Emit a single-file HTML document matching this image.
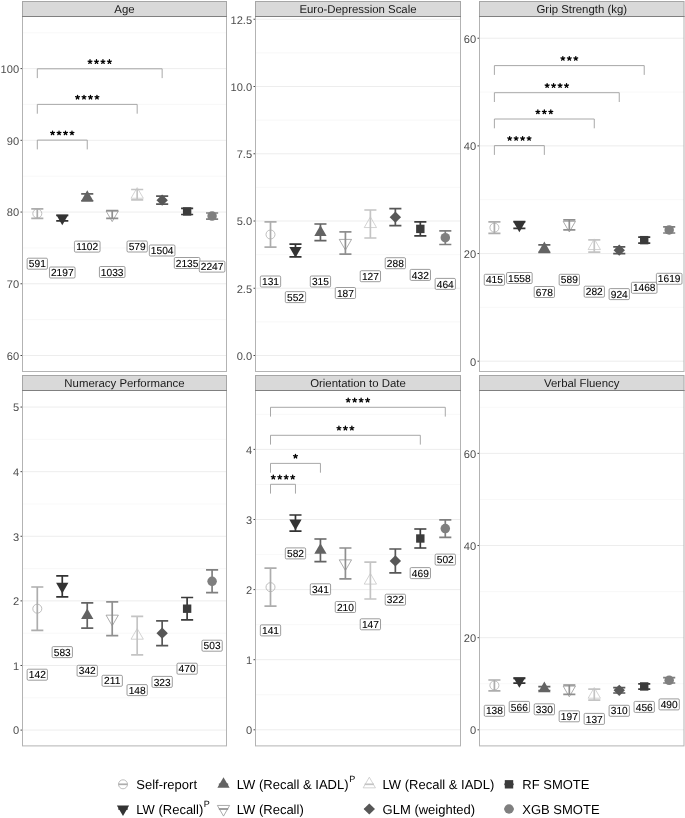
<!DOCTYPE html>
<html><head><meta charset="utf-8"><title>Chart</title>
<style>html,body{margin:0;padding:0;background:#fff;width:685px;height:818px;overflow:hidden}</style>
</head><body>
<svg width="685" height="818" viewBox="0 0 685 818" style="display:block;will-change:transform;text-rendering:geometricPrecision">
<rect width="685" height="818" fill="#fff"/>
<line x1="22.5" y1="319.64" x2="226.5" y2="319.64" stroke="#f4f4f4" stroke-width="0.6"/>
<line x1="22.5" y1="247.91" x2="226.5" y2="247.91" stroke="#f4f4f4" stroke-width="0.6"/>
<line x1="22.5" y1="176.19" x2="226.5" y2="176.19" stroke="#f4f4f4" stroke-width="0.6"/>
<line x1="22.5" y1="104.46" x2="226.5" y2="104.46" stroke="#f4f4f4" stroke-width="0.6"/>
<line x1="22.5" y1="32.74" x2="226.5" y2="32.74" stroke="#f4f4f4" stroke-width="0.6"/>
<line x1="22.5" y1="355.5" x2="226.5" y2="355.5" stroke="#ebebeb" stroke-width="0.9"/>
<line x1="20.5" y1="355.5" x2="22.5" y2="355.5" stroke="#333" stroke-width="0.9"/>
<text x="19.1" y="359.8" text-anchor="end" font-family="'Liberation Sans', sans-serif" font-size="11.1" fill="#4d4d4d">60</text>
<line x1="22.5" y1="283.77" x2="226.5" y2="283.77" stroke="#ebebeb" stroke-width="0.9"/>
<line x1="20.5" y1="283.77" x2="22.5" y2="283.77" stroke="#333" stroke-width="0.9"/>
<text x="19.1" y="288.07" text-anchor="end" font-family="'Liberation Sans', sans-serif" font-size="11.1" fill="#4d4d4d">70</text>
<line x1="22.5" y1="212.05" x2="226.5" y2="212.05" stroke="#ebebeb" stroke-width="0.9"/>
<line x1="20.5" y1="212.05" x2="22.5" y2="212.05" stroke="#333" stroke-width="0.9"/>
<text x="19.1" y="216.35" text-anchor="end" font-family="'Liberation Sans', sans-serif" font-size="11.1" fill="#4d4d4d">80</text>
<line x1="22.5" y1="140.32" x2="226.5" y2="140.32" stroke="#ebebeb" stroke-width="0.9"/>
<line x1="20.5" y1="140.32" x2="22.5" y2="140.32" stroke="#333" stroke-width="0.9"/>
<text x="19.1" y="144.62" text-anchor="end" font-family="'Liberation Sans', sans-serif" font-size="11.1" fill="#4d4d4d">90</text>
<line x1="22.5" y1="68.6" x2="226.5" y2="68.6" stroke="#ebebeb" stroke-width="0.9"/>
<line x1="20.5" y1="68.6" x2="22.5" y2="68.6" stroke="#333" stroke-width="0.9"/>
<text x="19.1" y="72.9" text-anchor="end" font-family="'Liberation Sans', sans-serif" font-size="11.1" fill="#4d4d4d">100</text>
<path d="M37.3,78.1 V68.8 H162.15 V78.1" fill="none" stroke="#9e9e9e" stroke-width="0.9"/>
<path d="M90.02,61.75L90.02,59.73M90.02,61.75L91.94,61.13M90.02,61.75L91.21,63.38M90.02,61.75L88.83,63.38M90.02,61.75L88.1,61.13" stroke="#000" stroke-width="1.3" stroke-linecap="round" fill="none"/>
<path d="M96.49,61.75L96.49,59.73M96.49,61.75L98.41,61.13M96.49,61.75L97.68,63.38M96.49,61.75L95.3,63.38M96.49,61.75L94.57,61.13" stroke="#000" stroke-width="1.3" stroke-linecap="round" fill="none"/>
<path d="M102.96,61.75L102.96,59.73M102.96,61.75L104.88,61.13M102.96,61.75L104.15,63.38M102.96,61.75L101.77,63.38M102.96,61.75L101.04,61.13" stroke="#000" stroke-width="1.3" stroke-linecap="round" fill="none"/>
<path d="M109.43,61.75L109.43,59.73M109.43,61.75L111.35,61.13M109.43,61.75L110.62,63.38M109.43,61.75L108.24,63.38M109.43,61.75L107.51,61.13" stroke="#000" stroke-width="1.3" stroke-linecap="round" fill="none"/>
<path d="M37.3,113.7 V104.4 H137.18 V113.7" fill="none" stroke="#9e9e9e" stroke-width="0.9"/>
<path d="M77.54,97.35L77.54,95.33M77.54,97.35L79.46,96.73M77.54,97.35L78.72,98.98M77.54,97.35L76.35,98.98M77.54,97.35L75.61,96.73" stroke="#000" stroke-width="1.3" stroke-linecap="round" fill="none"/>
<path d="M84.01,97.35L84.01,95.33M84.01,97.35L85.93,96.73M84.01,97.35L85.19,98.98M84.01,97.35L82.82,98.98M84.01,97.35L82.08,96.73" stroke="#000" stroke-width="1.3" stroke-linecap="round" fill="none"/>
<path d="M90.48,97.35L90.48,95.33M90.48,97.35L92.4,96.73M90.48,97.35L91.66,98.98M90.48,97.35L89.29,98.98M90.48,97.35L88.55,96.73" stroke="#000" stroke-width="1.3" stroke-linecap="round" fill="none"/>
<path d="M96.95,97.35L96.95,95.33M96.95,97.35L98.87,96.73M96.95,97.35L98.13,98.98M96.95,97.35L95.76,98.98M96.95,97.35L95.02,96.73" stroke="#000" stroke-width="1.3" stroke-linecap="round" fill="none"/>
<path d="M37.3,149.4 V140.1 H87.24 V149.4" fill="none" stroke="#9e9e9e" stroke-width="0.9"/>
<path d="M52.56,133.05L52.56,131.03M52.56,133.05L54.49,132.43M52.56,133.05L53.75,134.68M52.56,133.05L51.38,134.68M52.56,133.05L50.64,132.43" stroke="#000" stroke-width="1.3" stroke-linecap="round" fill="none"/>
<path d="M59.03,133.05L59.03,131.03M59.03,133.05L60.96,132.43M59.03,133.05L60.22,134.68M59.03,133.05L57.85,134.68M59.03,133.05L57.11,132.43" stroke="#000" stroke-width="1.3" stroke-linecap="round" fill="none"/>
<path d="M65.5,133.05L65.5,131.03M65.5,133.05L67.43,132.43M65.5,133.05L66.69,134.68M65.5,133.05L64.32,134.68M65.5,133.05L63.58,132.43" stroke="#000" stroke-width="1.3" stroke-linecap="round" fill="none"/>
<path d="M71.97,133.05L71.97,131.03M71.97,133.05L73.9,132.43M71.97,133.05L73.16,134.68M71.97,133.05L70.79,134.68M71.97,133.05L70.05,132.43" stroke="#000" stroke-width="1.3" stroke-linecap="round" fill="none"/>
<path d="M31.25,208.8 H43.35 M37.3,208.8 V218.3 M31.25,218.3 H43.35" fill="none" stroke="#adadad" stroke-width="1.7"/>
<circle cx="37.3" cy="213.55" r="4.5" fill="none" stroke="#adadad" stroke-width="0.8"/>
<path d="M56.22,215.5 H68.32 M62.27,215.5 V220.8 M56.22,220.8 H68.32" fill="none" stroke="#333333" stroke-width="1.7"/>
<polygon points="62.27,225.25 68.42,214.6 56.12,214.6" fill="#333333"/>
<path d="M81.19,193.9 H93.29 M87.24,193.9 V200.9 M81.19,200.9 H93.29" fill="none" stroke="#636363" stroke-width="1.7"/>
<polygon points="87.24,190.3 93.39,200.95 81.09,200.95" fill="#636363"/>
<path d="M106.16,210.7 H118.26 M112.21,210.7 V218.3 M106.16,218.3 H118.26" fill="none" stroke="#8f8f8f" stroke-width="1.7"/>
<polygon points="112.21,221.6 118.36,210.95 106.06,210.95" fill="none" stroke="#8f8f8f" stroke-width="0.75" stroke-linejoin="miter"/>
<path d="M131.13,189.5 H143.23 M137.18,189.5 V199.9 M131.13,199.9 H143.23" fill="none" stroke="#c4c4c4" stroke-width="1.7"/>
<polygon points="137.18,187.6 143.33,198.25 131.03,198.25" fill="none" stroke="#c4c4c4" stroke-width="0.75" stroke-linejoin="miter"/>
<path d="M156.1,196.1 H168.2 M162.15,196.1 V204.2 M156.1,204.2 H168.2" fill="none" stroke="#575757" stroke-width="1.7"/>
<polygon points="162.15,194.55 167.85,200.15 162.15,205.75 156.45,200.15" fill="#575757"/>
<path d="M181.07,208.4 H193.17 M187.12,208.4 V214.5 M181.07,214.5 H193.17" fill="none" stroke="#3b3b3b" stroke-width="1.7"/>
<rect x="182.92" y="207.25" width="8.4" height="8.4" fill="#3b3b3b"/>
<path d="M206.04,213 H218.14 M212.09,213 V219.1 M206.04,219.1 H218.14" fill="none" stroke="#7f7f7f" stroke-width="1.7"/>
<circle cx="212.09" cy="216.05" r="4.75" fill="#7f7f7f"/>
<rect x="27.15" y="258.2" width="20.3" height="11" rx="1.2" fill="#fff" stroke="#737373" stroke-width="0.7"/>
<text x="37.3" y="267.3" text-anchor="middle" font-family="'Liberation Sans', sans-serif" font-size="10.2" fill="#000" stroke="#000" stroke-width="0.1">591</text>
<rect x="49.47" y="267" width="25.6" height="11" rx="1.2" fill="#fff" stroke="#737373" stroke-width="0.7"/>
<text x="62.27" y="276.1" text-anchor="middle" font-family="'Liberation Sans', sans-serif" font-size="10.2" fill="#000" stroke="#000" stroke-width="0.1">2197</text>
<rect x="74.44" y="241.1" width="25.6" height="11" rx="1.2" fill="#fff" stroke="#737373" stroke-width="0.7"/>
<text x="87.24" y="250.2" text-anchor="middle" font-family="'Liberation Sans', sans-serif" font-size="10.2" fill="#000" stroke="#000" stroke-width="0.1">1102</text>
<rect x="99.41" y="266.5" width="25.6" height="11" rx="1.2" fill="#fff" stroke="#737373" stroke-width="0.7"/>
<text x="112.21" y="275.6" text-anchor="middle" font-family="'Liberation Sans', sans-serif" font-size="10.2" fill="#000" stroke="#000" stroke-width="0.1">1033</text>
<rect x="127.03" y="241" width="20.3" height="11" rx="1.2" fill="#fff" stroke="#737373" stroke-width="0.7"/>
<text x="137.18" y="250.1" text-anchor="middle" font-family="'Liberation Sans', sans-serif" font-size="10.2" fill="#000" stroke="#000" stroke-width="0.1">579</text>
<rect x="149.35" y="245" width="25.6" height="11" rx="1.2" fill="#fff" stroke="#737373" stroke-width="0.7"/>
<text x="162.15" y="254.1" text-anchor="middle" font-family="'Liberation Sans', sans-serif" font-size="10.2" fill="#000" stroke="#000" stroke-width="0.1">1504</text>
<rect x="174.32" y="257.5" width="25.6" height="11" rx="1.2" fill="#fff" stroke="#737373" stroke-width="0.7"/>
<text x="187.12" y="266.6" text-anchor="middle" font-family="'Liberation Sans', sans-serif" font-size="10.2" fill="#000" stroke="#000" stroke-width="0.1">2135</text>
<rect x="199.29" y="261.1" width="25.6" height="11" rx="1.2" fill="#fff" stroke="#737373" stroke-width="0.7"/>
<text x="212.09" y="270.2" text-anchor="middle" font-family="'Liberation Sans', sans-serif" font-size="10.2" fill="#000" stroke="#000" stroke-width="0.1">2247</text>
<rect x="22.5" y="16.5" width="204" height="355" fill="none" stroke="#b3b3b3" stroke-width="1"/>
<rect x="22.5" y="1.5" width="204" height="15" fill="#d9d9d9" stroke="#a6a6a6" stroke-width="1"/>
<line x1="22" y1="16.5" x2="227" y2="16.5" stroke="#808080" stroke-width="1.1"/>
<text x="124.5" y="12.6" text-anchor="middle" font-family="'Liberation Sans', sans-serif" font-size="11.4" fill="#1a1a1a">Age</text>
<line x1="255.5" y1="321.88" x2="460.5" y2="321.88" stroke="#f4f4f4" stroke-width="0.6"/>
<line x1="255.5" y1="254.62" x2="460.5" y2="254.62" stroke="#f4f4f4" stroke-width="0.6"/>
<line x1="255.5" y1="187.38" x2="460.5" y2="187.38" stroke="#f4f4f4" stroke-width="0.6"/>
<line x1="255.5" y1="120.12" x2="460.5" y2="120.12" stroke="#f4f4f4" stroke-width="0.6"/>
<line x1="255.5" y1="52.88" x2="460.5" y2="52.88" stroke="#f4f4f4" stroke-width="0.6"/>
<line x1="255.5" y1="355.5" x2="460.5" y2="355.5" stroke="#ebebeb" stroke-width="0.9"/>
<line x1="253.5" y1="355.5" x2="255.5" y2="355.5" stroke="#333" stroke-width="0.9"/>
<text x="252.1" y="359.8" text-anchor="end" font-family="'Liberation Sans', sans-serif" font-size="11.1" fill="#4d4d4d">0.0</text>
<line x1="255.5" y1="288.25" x2="460.5" y2="288.25" stroke="#ebebeb" stroke-width="0.9"/>
<line x1="253.5" y1="288.25" x2="255.5" y2="288.25" stroke="#333" stroke-width="0.9"/>
<text x="252.1" y="292.55" text-anchor="end" font-family="'Liberation Sans', sans-serif" font-size="11.1" fill="#4d4d4d">2.5</text>
<line x1="255.5" y1="221" x2="460.5" y2="221" stroke="#ebebeb" stroke-width="0.9"/>
<line x1="253.5" y1="221" x2="255.5" y2="221" stroke="#333" stroke-width="0.9"/>
<text x="252.1" y="225.3" text-anchor="end" font-family="'Liberation Sans', sans-serif" font-size="11.1" fill="#4d4d4d">5.0</text>
<line x1="255.5" y1="153.75" x2="460.5" y2="153.75" stroke="#ebebeb" stroke-width="0.9"/>
<line x1="253.5" y1="153.75" x2="255.5" y2="153.75" stroke="#333" stroke-width="0.9"/>
<text x="252.1" y="158.05" text-anchor="end" font-family="'Liberation Sans', sans-serif" font-size="11.1" fill="#4d4d4d">7.5</text>
<line x1="255.5" y1="86.5" x2="460.5" y2="86.5" stroke="#ebebeb" stroke-width="0.9"/>
<line x1="253.5" y1="86.5" x2="255.5" y2="86.5" stroke="#333" stroke-width="0.9"/>
<text x="252.1" y="90.8" text-anchor="end" font-family="'Liberation Sans', sans-serif" font-size="11.1" fill="#4d4d4d">10.0</text>
<line x1="255.5" y1="19.25" x2="460.5" y2="19.25" stroke="#ebebeb" stroke-width="0.9"/>
<line x1="253.5" y1="19.25" x2="255.5" y2="19.25" stroke="#333" stroke-width="0.9"/>
<text x="252.1" y="23.55" text-anchor="end" font-family="'Liberation Sans', sans-serif" font-size="11.1" fill="#4d4d4d">12.5</text>
<path d="M264.45,221.8 H276.55 M270.5,221.8 V247.2 M264.45,247.2 H276.55" fill="none" stroke="#adadad" stroke-width="1.7"/>
<circle cx="270.5" cy="234.5" r="4.5" fill="none" stroke="#adadad" stroke-width="0.8"/>
<path d="M289.42,244.2 H301.52 M295.47,244.2 V256.8 M289.42,256.8 H301.52" fill="none" stroke="#333333" stroke-width="1.7"/>
<polygon points="295.47,257.6 301.62,246.95 289.32,246.95" fill="#333333"/>
<path d="M314.39,224 H326.49 M320.44,224 V240.7 M314.39,240.7 H326.49" fill="none" stroke="#636363" stroke-width="1.7"/>
<polygon points="320.44,225.25 326.59,235.9 314.29,235.9" fill="#636363"/>
<path d="M339.36,231.8 H351.46 M345.41,231.8 V254.1 M339.36,254.1 H351.46" fill="none" stroke="#8f8f8f" stroke-width="1.7"/>
<polygon points="345.41,250.05 351.56,239.4 339.26,239.4" fill="none" stroke="#8f8f8f" stroke-width="0.75" stroke-linejoin="miter"/>
<path d="M364.33,210 H376.43 M370.38,210 V238 M364.33,238 H376.43" fill="none" stroke="#c4c4c4" stroke-width="1.7"/>
<polygon points="370.38,216.9 376.53,227.55 364.23,227.55" fill="none" stroke="#c4c4c4" stroke-width="0.75" stroke-linejoin="miter"/>
<path d="M389.3,208.6 H401.4 M395.35,208.6 V225.7 M389.3,225.7 H401.4" fill="none" stroke="#575757" stroke-width="1.7"/>
<polygon points="395.35,211.55 401.05,217.15 395.35,222.75 389.65,217.15" fill="#575757"/>
<path d="M414.27,221.9 H426.37 M420.32,221.9 V235.9 M414.27,235.9 H426.37" fill="none" stroke="#3b3b3b" stroke-width="1.7"/>
<rect x="416.12" y="224.7" width="8.4" height="8.4" fill="#3b3b3b"/>
<path d="M439.24,230.8 H451.34 M445.29,230.8 V244.5 M439.24,244.5 H451.34" fill="none" stroke="#7f7f7f" stroke-width="1.7"/>
<circle cx="445.29" cy="237.65" r="4.75" fill="#7f7f7f"/>
<rect x="260.35" y="276" width="20.3" height="11" rx="1.2" fill="#fff" stroke="#737373" stroke-width="0.7"/>
<text x="270.5" y="285.1" text-anchor="middle" font-family="'Liberation Sans', sans-serif" font-size="10.2" fill="#000" stroke="#000" stroke-width="0.1">131</text>
<rect x="285.32" y="291.6" width="20.3" height="11" rx="1.2" fill="#fff" stroke="#737373" stroke-width="0.7"/>
<text x="295.47" y="300.7" text-anchor="middle" font-family="'Liberation Sans', sans-serif" font-size="10.2" fill="#000" stroke="#000" stroke-width="0.1">552</text>
<rect x="310.29" y="276" width="20.3" height="11" rx="1.2" fill="#fff" stroke="#737373" stroke-width="0.7"/>
<text x="320.44" y="285.1" text-anchor="middle" font-family="'Liberation Sans', sans-serif" font-size="10.2" fill="#000" stroke="#000" stroke-width="0.1">315</text>
<rect x="335.26" y="287.5" width="20.3" height="11" rx="1.2" fill="#fff" stroke="#737373" stroke-width="0.7"/>
<text x="345.41" y="296.6" text-anchor="middle" font-family="'Liberation Sans', sans-serif" font-size="10.2" fill="#000" stroke="#000" stroke-width="0.1">187</text>
<rect x="360.23" y="270.7" width="20.3" height="11" rx="1.2" fill="#fff" stroke="#737373" stroke-width="0.7"/>
<text x="370.38" y="279.8" text-anchor="middle" font-family="'Liberation Sans', sans-serif" font-size="10.2" fill="#000" stroke="#000" stroke-width="0.1">127</text>
<rect x="385.2" y="257.7" width="20.3" height="11" rx="1.2" fill="#fff" stroke="#737373" stroke-width="0.7"/>
<text x="395.35" y="266.8" text-anchor="middle" font-family="'Liberation Sans', sans-serif" font-size="10.2" fill="#000" stroke="#000" stroke-width="0.1">288</text>
<rect x="410.17" y="269.4" width="20.3" height="11" rx="1.2" fill="#fff" stroke="#737373" stroke-width="0.7"/>
<text x="420.32" y="278.5" text-anchor="middle" font-family="'Liberation Sans', sans-serif" font-size="10.2" fill="#000" stroke="#000" stroke-width="0.1">432</text>
<rect x="435.14" y="278.4" width="20.3" height="11" rx="1.2" fill="#fff" stroke="#737373" stroke-width="0.7"/>
<text x="445.29" y="287.5" text-anchor="middle" font-family="'Liberation Sans', sans-serif" font-size="10.2" fill="#000" stroke="#000" stroke-width="0.1">464</text>
<rect x="255.5" y="16.5" width="205" height="355" fill="none" stroke="#b3b3b3" stroke-width="1"/>
<rect x="255.5" y="1.5" width="205" height="15" fill="#d9d9d9" stroke="#a6a6a6" stroke-width="1"/>
<line x1="255" y1="16.5" x2="461" y2="16.5" stroke="#808080" stroke-width="1.1"/>
<text x="358" y="12.6" text-anchor="middle" font-family="'Liberation Sans', sans-serif" font-size="11.4" fill="#1a1a1a">Euro-Depression Scale</text>
<line x1="479.5" y1="307.37" x2="684" y2="307.37" stroke="#f4f4f4" stroke-width="0.6"/>
<line x1="479.5" y1="199.71" x2="684" y2="199.71" stroke="#f4f4f4" stroke-width="0.6"/>
<line x1="479.5" y1="92.05" x2="684" y2="92.05" stroke="#f4f4f4" stroke-width="0.6"/>
<line x1="479.5" y1="361.2" x2="684" y2="361.2" stroke="#ebebeb" stroke-width="0.9"/>
<line x1="477.5" y1="361.2" x2="479.5" y2="361.2" stroke="#333" stroke-width="0.9"/>
<text x="476.1" y="365.5" text-anchor="end" font-family="'Liberation Sans', sans-serif" font-size="11.1" fill="#4d4d4d">0</text>
<line x1="479.5" y1="253.54" x2="684" y2="253.54" stroke="#ebebeb" stroke-width="0.9"/>
<line x1="477.5" y1="253.54" x2="479.5" y2="253.54" stroke="#333" stroke-width="0.9"/>
<text x="476.1" y="257.84" text-anchor="end" font-family="'Liberation Sans', sans-serif" font-size="11.1" fill="#4d4d4d">20</text>
<line x1="479.5" y1="145.88" x2="684" y2="145.88" stroke="#ebebeb" stroke-width="0.9"/>
<line x1="477.5" y1="145.88" x2="479.5" y2="145.88" stroke="#333" stroke-width="0.9"/>
<text x="476.1" y="150.18" text-anchor="end" font-family="'Liberation Sans', sans-serif" font-size="11.1" fill="#4d4d4d">40</text>
<line x1="479.5" y1="38.22" x2="684" y2="38.22" stroke="#ebebeb" stroke-width="0.9"/>
<line x1="477.5" y1="38.22" x2="479.5" y2="38.22" stroke="#333" stroke-width="0.9"/>
<text x="476.1" y="42.52" text-anchor="end" font-family="'Liberation Sans', sans-serif" font-size="11.1" fill="#4d4d4d">60</text>
<path d="M494.4,74.9 V65.6 H644.22 V74.9" fill="none" stroke="#9e9e9e" stroke-width="0.9"/>
<path d="M562.84,58.55L562.84,56.53M562.84,58.55L564.76,57.93M562.84,58.55L564.03,60.18M562.84,58.55L561.65,60.18M562.84,58.55L560.92,57.93" stroke="#000" stroke-width="1.3" stroke-linecap="round" fill="none"/>
<path d="M569.31,58.55L569.31,56.53M569.31,58.55L571.23,57.93M569.31,58.55L570.5,60.18M569.31,58.55L568.12,60.18M569.31,58.55L567.39,57.93" stroke="#000" stroke-width="1.3" stroke-linecap="round" fill="none"/>
<path d="M575.78,58.55L575.78,56.53M575.78,58.55L577.7,57.93M575.78,58.55L576.97,60.18M575.78,58.55L574.59,60.18M575.78,58.55L573.86,57.93" stroke="#000" stroke-width="1.3" stroke-linecap="round" fill="none"/>
<path d="M494.4,102 V92.7 H619.25 V102" fill="none" stroke="#9e9e9e" stroke-width="0.9"/>
<path d="M547.12,85.65L547.12,83.63M547.12,85.65L549.04,85.03M547.12,85.65L548.31,87.28M547.12,85.65L545.93,87.28M547.12,85.65L545.2,85.03" stroke="#000" stroke-width="1.3" stroke-linecap="round" fill="none"/>
<path d="M553.59,85.65L553.59,83.63M553.59,85.65L555.51,85.03M553.59,85.65L554.78,87.28M553.59,85.65L552.4,87.28M553.59,85.65L551.67,85.03" stroke="#000" stroke-width="1.3" stroke-linecap="round" fill="none"/>
<path d="M560.06,85.65L560.06,83.63M560.06,85.65L561.98,85.03M560.06,85.65L561.25,87.28M560.06,85.65L558.87,87.28M560.06,85.65L558.14,85.03" stroke="#000" stroke-width="1.3" stroke-linecap="round" fill="none"/>
<path d="M566.53,85.65L566.53,83.63M566.53,85.65L568.45,85.03M566.53,85.65L567.72,87.28M566.53,85.65L565.34,87.28M566.53,85.65L564.61,85.03" stroke="#000" stroke-width="1.3" stroke-linecap="round" fill="none"/>
<path d="M494.4,128.3 V119 H594.28 V128.3" fill="none" stroke="#9e9e9e" stroke-width="0.9"/>
<path d="M537.87,111.95L537.87,109.93M537.87,111.95L539.79,111.33M537.87,111.95L539.06,113.58M537.87,111.95L536.68,113.58M537.87,111.95L535.95,111.33" stroke="#000" stroke-width="1.3" stroke-linecap="round" fill="none"/>
<path d="M544.34,111.95L544.34,109.93M544.34,111.95L546.26,111.33M544.34,111.95L545.53,113.58M544.34,111.95L543.15,113.58M544.34,111.95L542.42,111.33" stroke="#000" stroke-width="1.3" stroke-linecap="round" fill="none"/>
<path d="M550.81,111.95L550.81,109.93M550.81,111.95L552.73,111.33M550.81,111.95L552,113.58M550.81,111.95L549.62,113.58M550.81,111.95L548.89,111.33" stroke="#000" stroke-width="1.3" stroke-linecap="round" fill="none"/>
<path d="M494.4,154.9 V145.6 H544.34 V154.9" fill="none" stroke="#9e9e9e" stroke-width="0.9"/>
<path d="M509.66,138.55L509.66,136.53M509.66,138.55L511.59,137.93M509.66,138.55L510.85,140.18M509.66,138.55L508.48,140.18M509.66,138.55L507.74,137.93" stroke="#000" stroke-width="1.3" stroke-linecap="round" fill="none"/>
<path d="M516.13,138.55L516.13,136.53M516.13,138.55L518.06,137.93M516.13,138.55L517.32,140.18M516.13,138.55L514.95,140.18M516.13,138.55L514.21,137.93" stroke="#000" stroke-width="1.3" stroke-linecap="round" fill="none"/>
<path d="M522.6,138.55L522.6,136.53M522.6,138.55L524.53,137.93M522.6,138.55L523.79,140.18M522.6,138.55L521.42,140.18M522.6,138.55L520.68,137.93" stroke="#000" stroke-width="1.3" stroke-linecap="round" fill="none"/>
<path d="M529.07,138.55L529.07,136.53M529.07,138.55L531,137.93M529.07,138.55L530.26,140.18M529.07,138.55L527.89,140.18M529.07,138.55L527.15,137.93" stroke="#000" stroke-width="1.3" stroke-linecap="round" fill="none"/>
<path d="M488.35,221.9 H500.45 M494.4,221.9 V233.4 M488.35,233.4 H500.45" fill="none" stroke="#adadad" stroke-width="1.7"/>
<circle cx="494.4" cy="227.65" r="4.5" fill="none" stroke="#adadad" stroke-width="0.8"/>
<path d="M513.32,221.7 H525.42 M519.37,221.7 V228.4 M513.32,228.4 H525.42" fill="none" stroke="#333333" stroke-width="1.7"/>
<polygon points="519.37,232.15 525.52,221.5 513.22,221.5" fill="#333333"/>
<path d="M538.29,244.8 H550.39 M544.34,244.8 V252.5 M538.29,252.5 H550.39" fill="none" stroke="#636363" stroke-width="1.7"/>
<polygon points="544.34,241.55 550.49,252.2 538.19,252.2" fill="#636363"/>
<path d="M563.26,219.9 H575.36 M569.31,219.9 V229.9 M563.26,229.9 H575.36" fill="none" stroke="#8f8f8f" stroke-width="1.7"/>
<polygon points="569.31,232 575.46,221.35 563.16,221.35" fill="none" stroke="#8f8f8f" stroke-width="0.75" stroke-linejoin="miter"/>
<path d="M588.23,239.9 H600.33 M594.28,239.9 V252.1 M588.23,252.1 H600.33" fill="none" stroke="#c4c4c4" stroke-width="1.7"/>
<polygon points="594.28,238.9 600.43,249.55 588.13,249.55" fill="none" stroke="#c4c4c4" stroke-width="0.75" stroke-linejoin="miter"/>
<path d="M613.2,246.8 H625.3 M619.25,246.8 V253.6 M613.2,253.6 H625.3" fill="none" stroke="#575757" stroke-width="1.7"/>
<polygon points="619.25,244.6 624.95,250.2 619.25,255.8 613.55,250.2" fill="#575757"/>
<path d="M638.17,237.1 H650.27 M644.22,237.1 V243.2 M638.17,243.2 H650.27" fill="none" stroke="#3b3b3b" stroke-width="1.7"/>
<rect x="640.02" y="235.95" width="8.4" height="8.4" fill="#3b3b3b"/>
<path d="M663.14,226.8 H675.24 M669.19,226.8 V233 M663.14,233 H675.24" fill="none" stroke="#7f7f7f" stroke-width="1.7"/>
<circle cx="669.19" cy="229.9" r="4.75" fill="#7f7f7f"/>
<rect x="484.25" y="274.3" width="20.3" height="11" rx="1.2" fill="#fff" stroke="#737373" stroke-width="0.7"/>
<text x="494.4" y="283.4" text-anchor="middle" font-family="'Liberation Sans', sans-serif" font-size="10.2" fill="#000" stroke="#000" stroke-width="0.1">415</text>
<rect x="506.57" y="272.5" width="25.6" height="11" rx="1.2" fill="#fff" stroke="#737373" stroke-width="0.7"/>
<text x="519.37" y="281.6" text-anchor="middle" font-family="'Liberation Sans', sans-serif" font-size="10.2" fill="#000" stroke="#000" stroke-width="0.1">1558</text>
<rect x="534.19" y="286.5" width="20.3" height="11" rx="1.2" fill="#fff" stroke="#737373" stroke-width="0.7"/>
<text x="544.34" y="295.6" text-anchor="middle" font-family="'Liberation Sans', sans-serif" font-size="10.2" fill="#000" stroke="#000" stroke-width="0.1">678</text>
<rect x="559.16" y="274.3" width="20.3" height="11" rx="1.2" fill="#fff" stroke="#737373" stroke-width="0.7"/>
<text x="569.31" y="283.4" text-anchor="middle" font-family="'Liberation Sans', sans-serif" font-size="10.2" fill="#000" stroke="#000" stroke-width="0.1">589</text>
<rect x="584.13" y="286.2" width="20.3" height="11" rx="1.2" fill="#fff" stroke="#737373" stroke-width="0.7"/>
<text x="594.28" y="295.3" text-anchor="middle" font-family="'Liberation Sans', sans-serif" font-size="10.2" fill="#000" stroke="#000" stroke-width="0.1">282</text>
<rect x="609.1" y="288.6" width="20.3" height="11" rx="1.2" fill="#fff" stroke="#737373" stroke-width="0.7"/>
<text x="619.25" y="297.7" text-anchor="middle" font-family="'Liberation Sans', sans-serif" font-size="10.2" fill="#000" stroke="#000" stroke-width="0.1">924</text>
<rect x="631.42" y="282.3" width="25.6" height="11" rx="1.2" fill="#fff" stroke="#737373" stroke-width="0.7"/>
<text x="644.22" y="291.4" text-anchor="middle" font-family="'Liberation Sans', sans-serif" font-size="10.2" fill="#000" stroke="#000" stroke-width="0.1">1468</text>
<rect x="656.39" y="273.3" width="25.6" height="11" rx="1.2" fill="#fff" stroke="#737373" stroke-width="0.7"/>
<text x="669.19" y="282.4" text-anchor="middle" font-family="'Liberation Sans', sans-serif" font-size="10.2" fill="#000" stroke="#000" stroke-width="0.1">1619</text>
<rect x="479.5" y="16.5" width="204.5" height="355" fill="none" stroke="#b3b3b3" stroke-width="1"/>
<rect x="479.5" y="1.5" width="204.5" height="15" fill="#d9d9d9" stroke="#a6a6a6" stroke-width="1"/>
<line x1="479" y1="16.5" x2="684.5" y2="16.5" stroke="#808080" stroke-width="1.1"/>
<text x="581.75" y="12.6" text-anchor="middle" font-family="'Liberation Sans', sans-serif" font-size="11.4" fill="#1a1a1a">Grip Strength (kg)</text>
<line x1="22.5" y1="697.8" x2="226.5" y2="697.8" stroke="#f4f4f4" stroke-width="0.6"/>
<line x1="22.5" y1="633.19" x2="226.5" y2="633.19" stroke="#f4f4f4" stroke-width="0.6"/>
<line x1="22.5" y1="568.58" x2="226.5" y2="568.58" stroke="#f4f4f4" stroke-width="0.6"/>
<line x1="22.5" y1="503.97" x2="226.5" y2="503.97" stroke="#f4f4f4" stroke-width="0.6"/>
<line x1="22.5" y1="439.36" x2="226.5" y2="439.36" stroke="#f4f4f4" stroke-width="0.6"/>
<line x1="22.5" y1="730.1" x2="226.5" y2="730.1" stroke="#ebebeb" stroke-width="0.9"/>
<line x1="20.5" y1="730.1" x2="22.5" y2="730.1" stroke="#333" stroke-width="0.9"/>
<text x="19.1" y="734.4" text-anchor="end" font-family="'Liberation Sans', sans-serif" font-size="11.1" fill="#4d4d4d">0</text>
<line x1="22.5" y1="665.49" x2="226.5" y2="665.49" stroke="#ebebeb" stroke-width="0.9"/>
<line x1="20.5" y1="665.49" x2="22.5" y2="665.49" stroke="#333" stroke-width="0.9"/>
<text x="19.1" y="669.79" text-anchor="end" font-family="'Liberation Sans', sans-serif" font-size="11.1" fill="#4d4d4d">1</text>
<line x1="22.5" y1="600.88" x2="226.5" y2="600.88" stroke="#ebebeb" stroke-width="0.9"/>
<line x1="20.5" y1="600.88" x2="22.5" y2="600.88" stroke="#333" stroke-width="0.9"/>
<text x="19.1" y="605.18" text-anchor="end" font-family="'Liberation Sans', sans-serif" font-size="11.1" fill="#4d4d4d">2</text>
<line x1="22.5" y1="536.27" x2="226.5" y2="536.27" stroke="#ebebeb" stroke-width="0.9"/>
<line x1="20.5" y1="536.27" x2="22.5" y2="536.27" stroke="#333" stroke-width="0.9"/>
<text x="19.1" y="540.57" text-anchor="end" font-family="'Liberation Sans', sans-serif" font-size="11.1" fill="#4d4d4d">3</text>
<line x1="22.5" y1="471.66" x2="226.5" y2="471.66" stroke="#ebebeb" stroke-width="0.9"/>
<line x1="20.5" y1="471.66" x2="22.5" y2="471.66" stroke="#333" stroke-width="0.9"/>
<text x="19.1" y="475.96" text-anchor="end" font-family="'Liberation Sans', sans-serif" font-size="11.1" fill="#4d4d4d">4</text>
<line x1="22.5" y1="407.05" x2="226.5" y2="407.05" stroke="#ebebeb" stroke-width="0.9"/>
<line x1="20.5" y1="407.05" x2="22.5" y2="407.05" stroke="#333" stroke-width="0.9"/>
<text x="19.1" y="411.35" text-anchor="end" font-family="'Liberation Sans', sans-serif" font-size="11.1" fill="#4d4d4d">5</text>
<path d="M31.25,587 H43.35 M37.3,587 V630.4 M31.25,630.4 H43.35" fill="none" stroke="#adadad" stroke-width="1.7"/>
<circle cx="37.3" cy="608.7" r="4.5" fill="none" stroke="#adadad" stroke-width="0.8"/>
<path d="M56.22,575.9 H68.32 M62.27,575.9 V596.9 M56.22,596.9 H68.32" fill="none" stroke="#333333" stroke-width="1.7"/>
<polygon points="62.27,593.5 68.42,582.85 56.12,582.85" fill="#333333"/>
<path d="M81.19,602.8 H93.29 M87.24,602.8 V628.2 M81.19,628.2 H93.29" fill="none" stroke="#636363" stroke-width="1.7"/>
<polygon points="87.24,608.4 93.39,619.05 81.09,619.05" fill="#636363"/>
<path d="M106.16,601.8 H118.26 M112.21,601.8 V635.6 M106.16,635.6 H118.26" fill="none" stroke="#8f8f8f" stroke-width="1.7"/>
<polygon points="112.21,625.8 118.36,615.15 106.06,615.15" fill="none" stroke="#8f8f8f" stroke-width="0.75" stroke-linejoin="miter"/>
<path d="M131.13,616.4 H143.23 M137.18,616.4 V654.9 M131.13,654.9 H143.23" fill="none" stroke="#c4c4c4" stroke-width="1.7"/>
<polygon points="137.18,628.55 143.33,639.2 131.03,639.2" fill="none" stroke="#c4c4c4" stroke-width="0.75" stroke-linejoin="miter"/>
<path d="M156.1,620.8 H168.2 M162.15,620.8 V645.6 M156.1,645.6 H168.2" fill="none" stroke="#575757" stroke-width="1.7"/>
<polygon points="162.15,627.6 167.85,633.2 162.15,638.8 156.45,633.2" fill="#575757"/>
<path d="M181.07,597.5 H193.17 M187.12,597.5 V619.9 M181.07,619.9 H193.17" fill="none" stroke="#3b3b3b" stroke-width="1.7"/>
<rect x="182.92" y="604.5" width="8.4" height="8.4" fill="#3b3b3b"/>
<path d="M206.04,569.9 H218.14 M212.09,569.9 V592.7 M206.04,592.7 H218.14" fill="none" stroke="#7f7f7f" stroke-width="1.7"/>
<circle cx="212.09" cy="581.3" r="4.75" fill="#7f7f7f"/>
<rect x="27.15" y="669.2" width="20.3" height="11" rx="1.2" fill="#fff" stroke="#737373" stroke-width="0.7"/>
<text x="37.3" y="678.3" text-anchor="middle" font-family="'Liberation Sans', sans-serif" font-size="10.2" fill="#000" stroke="#000" stroke-width="0.1">142</text>
<rect x="52.12" y="646.6" width="20.3" height="11" rx="1.2" fill="#fff" stroke="#737373" stroke-width="0.7"/>
<text x="62.27" y="655.7" text-anchor="middle" font-family="'Liberation Sans', sans-serif" font-size="10.2" fill="#000" stroke="#000" stroke-width="0.1">583</text>
<rect x="77.09" y="665.3" width="20.3" height="11" rx="1.2" fill="#fff" stroke="#737373" stroke-width="0.7"/>
<text x="87.24" y="674.4" text-anchor="middle" font-family="'Liberation Sans', sans-serif" font-size="10.2" fill="#000" stroke="#000" stroke-width="0.1">342</text>
<rect x="102.06" y="675.3" width="20.3" height="11" rx="1.2" fill="#fff" stroke="#737373" stroke-width="0.7"/>
<text x="112.21" y="684.4" text-anchor="middle" font-family="'Liberation Sans', sans-serif" font-size="10.2" fill="#000" stroke="#000" stroke-width="0.1">211</text>
<rect x="127.03" y="684.6" width="20.3" height="11" rx="1.2" fill="#fff" stroke="#737373" stroke-width="0.7"/>
<text x="137.18" y="693.7" text-anchor="middle" font-family="'Liberation Sans', sans-serif" font-size="10.2" fill="#000" stroke="#000" stroke-width="0.1">148</text>
<rect x="152" y="676.4" width="20.3" height="11" rx="1.2" fill="#fff" stroke="#737373" stroke-width="0.7"/>
<text x="162.15" y="685.5" text-anchor="middle" font-family="'Liberation Sans', sans-serif" font-size="10.2" fill="#000" stroke="#000" stroke-width="0.1">323</text>
<rect x="176.97" y="663.2" width="20.3" height="11" rx="1.2" fill="#fff" stroke="#737373" stroke-width="0.7"/>
<text x="187.12" y="672.3" text-anchor="middle" font-family="'Liberation Sans', sans-serif" font-size="10.2" fill="#000" stroke="#000" stroke-width="0.1">470</text>
<rect x="201.94" y="640.2" width="20.3" height="11" rx="1.2" fill="#fff" stroke="#737373" stroke-width="0.7"/>
<text x="212.09" y="649.3" text-anchor="middle" font-family="'Liberation Sans', sans-serif" font-size="10.2" fill="#000" stroke="#000" stroke-width="0.1">503</text>
<rect x="22.5" y="390.5" width="204" height="355.4" fill="none" stroke="#b3b3b3" stroke-width="1"/>
<rect x="22.5" y="375.5" width="204" height="15" fill="#d9d9d9" stroke="#a6a6a6" stroke-width="1"/>
<line x1="22" y1="390.5" x2="227" y2="390.5" stroke="#808080" stroke-width="1.1"/>
<text x="124.5" y="386.6" text-anchor="middle" font-family="'Liberation Sans', sans-serif" font-size="11.4" fill="#1a1a1a">Numeracy Performance</text>
<line x1="255.5" y1="694.75" x2="460.5" y2="694.75" stroke="#f4f4f4" stroke-width="0.6"/>
<line x1="255.5" y1="624.65" x2="460.5" y2="624.65" stroke="#f4f4f4" stroke-width="0.6"/>
<line x1="255.5" y1="554.55" x2="460.5" y2="554.55" stroke="#f4f4f4" stroke-width="0.6"/>
<line x1="255.5" y1="484.45" x2="460.5" y2="484.45" stroke="#f4f4f4" stroke-width="0.6"/>
<line x1="255.5" y1="414.35" x2="460.5" y2="414.35" stroke="#f4f4f4" stroke-width="0.6"/>
<line x1="255.5" y1="729.8" x2="460.5" y2="729.8" stroke="#ebebeb" stroke-width="0.9"/>
<line x1="253.5" y1="729.8" x2="255.5" y2="729.8" stroke="#333" stroke-width="0.9"/>
<text x="252.1" y="734.1" text-anchor="end" font-family="'Liberation Sans', sans-serif" font-size="11.1" fill="#4d4d4d">0</text>
<line x1="255.5" y1="659.7" x2="460.5" y2="659.7" stroke="#ebebeb" stroke-width="0.9"/>
<line x1="253.5" y1="659.7" x2="255.5" y2="659.7" stroke="#333" stroke-width="0.9"/>
<text x="252.1" y="664" text-anchor="end" font-family="'Liberation Sans', sans-serif" font-size="11.1" fill="#4d4d4d">1</text>
<line x1="255.5" y1="589.6" x2="460.5" y2="589.6" stroke="#ebebeb" stroke-width="0.9"/>
<line x1="253.5" y1="589.6" x2="255.5" y2="589.6" stroke="#333" stroke-width="0.9"/>
<text x="252.1" y="593.9" text-anchor="end" font-family="'Liberation Sans', sans-serif" font-size="11.1" fill="#4d4d4d">2</text>
<line x1="255.5" y1="519.5" x2="460.5" y2="519.5" stroke="#ebebeb" stroke-width="0.9"/>
<line x1="253.5" y1="519.5" x2="255.5" y2="519.5" stroke="#333" stroke-width="0.9"/>
<text x="252.1" y="523.8" text-anchor="end" font-family="'Liberation Sans', sans-serif" font-size="11.1" fill="#4d4d4d">3</text>
<line x1="255.5" y1="449.4" x2="460.5" y2="449.4" stroke="#ebebeb" stroke-width="0.9"/>
<line x1="253.5" y1="449.4" x2="255.5" y2="449.4" stroke="#333" stroke-width="0.9"/>
<text x="252.1" y="453.7" text-anchor="end" font-family="'Liberation Sans', sans-serif" font-size="11.1" fill="#4d4d4d">4</text>
<path d="M270.5,416.6 V407.3 H445.29 V416.6" fill="none" stroke="#9e9e9e" stroke-width="0.9"/>
<path d="M348.19,400.25L348.19,398.23M348.19,400.25L350.11,399.63M348.19,400.25L349.38,401.88M348.19,400.25L347,401.88M348.19,400.25L346.27,399.63" stroke="#000" stroke-width="1.3" stroke-linecap="round" fill="none"/>
<path d="M354.66,400.25L354.66,398.23M354.66,400.25L356.58,399.63M354.66,400.25L355.85,401.88M354.66,400.25L353.47,401.88M354.66,400.25L352.74,399.63" stroke="#000" stroke-width="1.3" stroke-linecap="round" fill="none"/>
<path d="M361.13,400.25L361.13,398.23M361.13,400.25L363.05,399.63M361.13,400.25L362.32,401.88M361.13,400.25L359.94,401.88M361.13,400.25L359.21,399.63" stroke="#000" stroke-width="1.3" stroke-linecap="round" fill="none"/>
<path d="M367.6,400.25L367.6,398.23M367.6,400.25L369.52,399.63M367.6,400.25L368.79,401.88M367.6,400.25L366.41,401.88M367.6,400.25L365.68,399.63" stroke="#000" stroke-width="1.3" stroke-linecap="round" fill="none"/>
<path d="M270.5,444.6 V435.3 H420.32 V444.6" fill="none" stroke="#9e9e9e" stroke-width="0.9"/>
<path d="M338.94,428.25L338.94,426.23M338.94,428.25L340.86,427.63M338.94,428.25L340.13,429.88M338.94,428.25L337.75,429.88M338.94,428.25L337.02,427.63" stroke="#000" stroke-width="1.3" stroke-linecap="round" fill="none"/>
<path d="M345.41,428.25L345.41,426.23M345.41,428.25L347.33,427.63M345.41,428.25L346.6,429.88M345.41,428.25L344.22,429.88M345.41,428.25L343.49,427.63" stroke="#000" stroke-width="1.3" stroke-linecap="round" fill="none"/>
<path d="M351.88,428.25L351.88,426.23M351.88,428.25L353.8,427.63M351.88,428.25L353.07,429.88M351.88,428.25L350.69,429.88M351.88,428.25L349.96,427.63" stroke="#000" stroke-width="1.3" stroke-linecap="round" fill="none"/>
<path d="M270.5,472.7 V463.4 H320.44 V472.7" fill="none" stroke="#9e9e9e" stroke-width="0.9"/>
<path d="M295.47,456.35L295.47,454.33M295.47,456.35L297.39,455.73M295.47,456.35L296.66,457.98M295.47,456.35L294.28,457.98M295.47,456.35L293.55,455.73" stroke="#000" stroke-width="1.3" stroke-linecap="round" fill="none"/>
<path d="M270.5,493.6 V484.3 H295.47 V493.6" fill="none" stroke="#9e9e9e" stroke-width="0.9"/>
<path d="M273.28,477.25L273.28,475.23M273.28,477.25L275.2,476.63M273.28,477.25L274.47,478.88M273.28,477.25L272.09,478.88M273.28,477.25L271.36,476.63" stroke="#000" stroke-width="1.3" stroke-linecap="round" fill="none"/>
<path d="M279.75,477.25L279.75,475.23M279.75,477.25L281.67,476.63M279.75,477.25L280.94,478.88M279.75,477.25L278.56,478.88M279.75,477.25L277.83,476.63" stroke="#000" stroke-width="1.3" stroke-linecap="round" fill="none"/>
<path d="M286.22,477.25L286.22,475.23M286.22,477.25L288.14,476.63M286.22,477.25L287.41,478.88M286.22,477.25L285.03,478.88M286.22,477.25L284.3,476.63" stroke="#000" stroke-width="1.3" stroke-linecap="round" fill="none"/>
<path d="M292.69,477.25L292.69,475.23M292.69,477.25L294.61,476.63M292.69,477.25L293.88,478.88M292.69,477.25L291.5,478.88M292.69,477.25L290.77,476.63" stroke="#000" stroke-width="1.3" stroke-linecap="round" fill="none"/>
<path d="M264.45,568.2 H276.55 M270.5,568.2 V606.1 M264.45,606.1 H276.55" fill="none" stroke="#adadad" stroke-width="1.7"/>
<circle cx="270.5" cy="587.15" r="4.5" fill="none" stroke="#adadad" stroke-width="0.8"/>
<path d="M289.42,515 H301.52 M295.47,515 V531.2 M289.42,531.2 H301.52" fill="none" stroke="#333333" stroke-width="1.7"/>
<polygon points="295.47,530.2 301.62,519.55 289.32,519.55" fill="#333333"/>
<path d="M314.39,539 H326.49 M320.44,539 V561.6 M314.39,561.6 H326.49" fill="none" stroke="#636363" stroke-width="1.7"/>
<polygon points="320.44,543.2 326.59,553.85 314.29,553.85" fill="#636363"/>
<path d="M339.36,548 H351.46 M345.41,548 V578.8 M339.36,578.8 H351.46" fill="none" stroke="#8f8f8f" stroke-width="1.7"/>
<polygon points="345.41,570.5 351.56,559.85 339.26,559.85" fill="none" stroke="#8f8f8f" stroke-width="0.75" stroke-linejoin="miter"/>
<path d="M364.33,562.1 H376.43 M370.38,562.1 V599 M364.33,599 H376.43" fill="none" stroke="#c4c4c4" stroke-width="1.7"/>
<polygon points="370.38,573.45 376.53,584.1 364.23,584.1" fill="none" stroke="#c4c4c4" stroke-width="0.75" stroke-linejoin="miter"/>
<path d="M389.3,549 H401.4 M395.35,549 V572.9 M389.3,572.9 H401.4" fill="none" stroke="#575757" stroke-width="1.7"/>
<polygon points="395.35,555.35 401.05,560.95 395.35,566.55 389.65,560.95" fill="#575757"/>
<path d="M414.27,529 H426.37 M420.32,529 V548 M414.27,548 H426.37" fill="none" stroke="#3b3b3b" stroke-width="1.7"/>
<rect x="416.12" y="534.3" width="8.4" height="8.4" fill="#3b3b3b"/>
<path d="M439.24,519.8 H451.34 M445.29,519.8 V537.4 M439.24,537.4 H451.34" fill="none" stroke="#7f7f7f" stroke-width="1.7"/>
<circle cx="445.29" cy="528.6" r="4.75" fill="#7f7f7f"/>
<rect x="260.35" y="624.9" width="20.3" height="11" rx="1.2" fill="#fff" stroke="#737373" stroke-width="0.7"/>
<text x="270.5" y="634" text-anchor="middle" font-family="'Liberation Sans', sans-serif" font-size="10.2" fill="#000" stroke="#000" stroke-width="0.1">141</text>
<rect x="285.32" y="547.9" width="20.3" height="11" rx="1.2" fill="#fff" stroke="#737373" stroke-width="0.7"/>
<text x="295.47" y="557" text-anchor="middle" font-family="'Liberation Sans', sans-serif" font-size="10.2" fill="#000" stroke="#000" stroke-width="0.1">582</text>
<rect x="310.29" y="583.8" width="20.3" height="11" rx="1.2" fill="#fff" stroke="#737373" stroke-width="0.7"/>
<text x="320.44" y="592.9" text-anchor="middle" font-family="'Liberation Sans', sans-serif" font-size="10.2" fill="#000" stroke="#000" stroke-width="0.1">341</text>
<rect x="335.26" y="601.5" width="20.3" height="11" rx="1.2" fill="#fff" stroke="#737373" stroke-width="0.7"/>
<text x="345.41" y="610.6" text-anchor="middle" font-family="'Liberation Sans', sans-serif" font-size="10.2" fill="#000" stroke="#000" stroke-width="0.1">210</text>
<rect x="360.23" y="618.8" width="20.3" height="11" rx="1.2" fill="#fff" stroke="#737373" stroke-width="0.7"/>
<text x="370.38" y="627.9" text-anchor="middle" font-family="'Liberation Sans', sans-serif" font-size="10.2" fill="#000" stroke="#000" stroke-width="0.1">147</text>
<rect x="385.2" y="594.2" width="20.3" height="11" rx="1.2" fill="#fff" stroke="#737373" stroke-width="0.7"/>
<text x="395.35" y="603.3" text-anchor="middle" font-family="'Liberation Sans', sans-serif" font-size="10.2" fill="#000" stroke="#000" stroke-width="0.1">322</text>
<rect x="410.17" y="567.6" width="20.3" height="11" rx="1.2" fill="#fff" stroke="#737373" stroke-width="0.7"/>
<text x="420.32" y="576.7" text-anchor="middle" font-family="'Liberation Sans', sans-serif" font-size="10.2" fill="#000" stroke="#000" stroke-width="0.1">469</text>
<rect x="435.14" y="554.1" width="20.3" height="11" rx="1.2" fill="#fff" stroke="#737373" stroke-width="0.7"/>
<text x="445.29" y="563.2" text-anchor="middle" font-family="'Liberation Sans', sans-serif" font-size="10.2" fill="#000" stroke="#000" stroke-width="0.1">502</text>
<rect x="255.5" y="390.5" width="205" height="355.4" fill="none" stroke="#b3b3b3" stroke-width="1"/>
<rect x="255.5" y="375.5" width="205" height="15" fill="#d9d9d9" stroke="#a6a6a6" stroke-width="1"/>
<line x1="255" y1="390.5" x2="461" y2="390.5" stroke="#808080" stroke-width="1.1"/>
<text x="358" y="386.6" text-anchor="middle" font-family="'Liberation Sans', sans-serif" font-size="11.4" fill="#1a1a1a">Orientation to Date</text>
<line x1="479.5" y1="683.73" x2="684" y2="683.73" stroke="#f4f4f4" stroke-width="0.6"/>
<line x1="479.5" y1="591.59" x2="684" y2="591.59" stroke="#f4f4f4" stroke-width="0.6"/>
<line x1="479.5" y1="499.45" x2="684" y2="499.45" stroke="#f4f4f4" stroke-width="0.6"/>
<line x1="479.5" y1="407.31" x2="684" y2="407.31" stroke="#f4f4f4" stroke-width="0.6"/>
<line x1="479.5" y1="729.8" x2="684" y2="729.8" stroke="#ebebeb" stroke-width="0.9"/>
<line x1="477.5" y1="729.8" x2="479.5" y2="729.8" stroke="#333" stroke-width="0.9"/>
<text x="476.1" y="734.1" text-anchor="end" font-family="'Liberation Sans', sans-serif" font-size="11.1" fill="#4d4d4d">0</text>
<line x1="479.5" y1="637.66" x2="684" y2="637.66" stroke="#ebebeb" stroke-width="0.9"/>
<line x1="477.5" y1="637.66" x2="479.5" y2="637.66" stroke="#333" stroke-width="0.9"/>
<text x="476.1" y="641.96" text-anchor="end" font-family="'Liberation Sans', sans-serif" font-size="11.1" fill="#4d4d4d">20</text>
<line x1="479.5" y1="545.52" x2="684" y2="545.52" stroke="#ebebeb" stroke-width="0.9"/>
<line x1="477.5" y1="545.52" x2="479.5" y2="545.52" stroke="#333" stroke-width="0.9"/>
<text x="476.1" y="549.82" text-anchor="end" font-family="'Liberation Sans', sans-serif" font-size="11.1" fill="#4d4d4d">40</text>
<line x1="479.5" y1="453.38" x2="684" y2="453.38" stroke="#ebebeb" stroke-width="0.9"/>
<line x1="477.5" y1="453.38" x2="479.5" y2="453.38" stroke="#333" stroke-width="0.9"/>
<text x="476.1" y="457.68" text-anchor="end" font-family="'Liberation Sans', sans-serif" font-size="11.1" fill="#4d4d4d">60</text>
<path d="M488.35,680 H500.45 M494.4,680 V690.8 M488.35,690.8 H500.45" fill="none" stroke="#adadad" stroke-width="1.7"/>
<circle cx="494.4" cy="685.4" r="4.5" fill="none" stroke="#adadad" stroke-width="0.8"/>
<path d="M513.32,678.3 H525.42 M519.37,678.3 V683.2 M513.32,683.2 H525.42" fill="none" stroke="#333333" stroke-width="1.7"/>
<polygon points="519.37,687.85 525.52,677.2 513.22,677.2" fill="#333333"/>
<path d="M538.29,686.6 H550.39 M544.34,686.6 V690.7 M538.29,690.7 H550.39" fill="none" stroke="#636363" stroke-width="1.7"/>
<polygon points="544.34,681.55 550.49,692.2 538.19,692.2" fill="#636363"/>
<path d="M563.26,685 H575.36 M569.31,685 V694.3 M563.26,694.3 H575.36" fill="none" stroke="#8f8f8f" stroke-width="1.7"/>
<polygon points="569.31,696.75 575.46,686.1 563.16,686.1" fill="none" stroke="#8f8f8f" stroke-width="0.75" stroke-linejoin="miter"/>
<path d="M588.23,689.1 H600.33 M594.28,689.1 V700.2 M588.23,700.2 H600.33" fill="none" stroke="#c4c4c4" stroke-width="1.7"/>
<polygon points="594.28,687.55 600.43,698.2 588.13,698.2" fill="none" stroke="#c4c4c4" stroke-width="0.75" stroke-linejoin="miter"/>
<path d="M613.2,687.6 H625.3 M619.25,687.6 V693 M613.2,693 H625.3" fill="none" stroke="#575757" stroke-width="1.7"/>
<polygon points="619.25,684.7 624.95,690.3 619.25,695.9 613.55,690.3" fill="#575757"/>
<path d="M638.17,683.8 H650.27 M644.22,683.8 V689.1 M638.17,689.1 H650.27" fill="none" stroke="#3b3b3b" stroke-width="1.7"/>
<rect x="640.02" y="682.25" width="8.4" height="8.4" fill="#3b3b3b"/>
<path d="M663.14,677.6 H675.24 M669.19,677.6 V683 M663.14,683 H675.24" fill="none" stroke="#7f7f7f" stroke-width="1.7"/>
<circle cx="669.19" cy="680.3" r="4.75" fill="#7f7f7f"/>
<rect x="484.25" y="705.3" width="20.3" height="11" rx="1.2" fill="#fff" stroke="#737373" stroke-width="0.7"/>
<text x="494.4" y="714.4" text-anchor="middle" font-family="'Liberation Sans', sans-serif" font-size="10.2" fill="#000" stroke="#000" stroke-width="0.1">138</text>
<rect x="509.22" y="701.4" width="20.3" height="11" rx="1.2" fill="#fff" stroke="#737373" stroke-width="0.7"/>
<text x="519.37" y="710.5" text-anchor="middle" font-family="'Liberation Sans', sans-serif" font-size="10.2" fill="#000" stroke="#000" stroke-width="0.1">566</text>
<rect x="534.19" y="703.8" width="20.3" height="11" rx="1.2" fill="#fff" stroke="#737373" stroke-width="0.7"/>
<text x="544.34" y="712.9" text-anchor="middle" font-family="'Liberation Sans', sans-serif" font-size="10.2" fill="#000" stroke="#000" stroke-width="0.1">330</text>
<rect x="559.16" y="710.8" width="20.3" height="11" rx="1.2" fill="#fff" stroke="#737373" stroke-width="0.7"/>
<text x="569.31" y="719.9" text-anchor="middle" font-family="'Liberation Sans', sans-serif" font-size="10.2" fill="#000" stroke="#000" stroke-width="0.1">197</text>
<rect x="584.13" y="713.4" width="20.3" height="11" rx="1.2" fill="#fff" stroke="#737373" stroke-width="0.7"/>
<text x="594.28" y="722.5" text-anchor="middle" font-family="'Liberation Sans', sans-serif" font-size="10.2" fill="#000" stroke="#000" stroke-width="0.1">137</text>
<rect x="609.1" y="705.3" width="20.3" height="11" rx="1.2" fill="#fff" stroke="#737373" stroke-width="0.7"/>
<text x="619.25" y="714.4" text-anchor="middle" font-family="'Liberation Sans', sans-serif" font-size="10.2" fill="#000" stroke="#000" stroke-width="0.1">310</text>
<rect x="634.07" y="701.4" width="20.3" height="11" rx="1.2" fill="#fff" stroke="#737373" stroke-width="0.7"/>
<text x="644.22" y="710.5" text-anchor="middle" font-family="'Liberation Sans', sans-serif" font-size="10.2" fill="#000" stroke="#000" stroke-width="0.1">456</text>
<rect x="659.04" y="698.9" width="20.3" height="11" rx="1.2" fill="#fff" stroke="#737373" stroke-width="0.7"/>
<text x="669.19" y="708" text-anchor="middle" font-family="'Liberation Sans', sans-serif" font-size="10.2" fill="#000" stroke="#000" stroke-width="0.1">490</text>
<rect x="479.5" y="390.5" width="204.5" height="355.4" fill="none" stroke="#b3b3b3" stroke-width="1"/>
<rect x="479.5" y="375.5" width="204.5" height="15" fill="#d9d9d9" stroke="#a6a6a6" stroke-width="1"/>
<line x1="479" y1="390.5" x2="684.5" y2="390.5" stroke="#808080" stroke-width="1.1"/>
<text x="581.75" y="386.6" text-anchor="middle" font-family="'Liberation Sans', sans-serif" font-size="11.4" fill="#1a1a1a">Verbal Fluency</text>
<line x1="118.35" y1="784.3" x2="127.65" y2="784.3" stroke="#adadad" stroke-width="1.7"/>
<circle cx="123" cy="784.3" r="4.5" fill="none" stroke="#adadad" stroke-width="0.8"/>
<text x="136.3" y="789" font-family="'Liberation Sans', sans-serif" font-size="13" fill="#000">Self-report</text>
<line x1="118.35" y1="809" x2="127.65" y2="809" stroke="#333333" stroke-width="1.7"/>
<polygon points="123,816.1 129.15,805.45 116.85,805.45" fill="#333333"/>
<text x="136.3" y="813.7" font-family="'Liberation Sans', sans-serif" font-size="13" fill="#000">LW (Recall)<tspan font-size="9" dy="-6.6" dx="0.6">P</tspan></text>
<line x1="218.85" y1="784.3" x2="228.15" y2="784.3" stroke="#636363" stroke-width="1.7"/>
<polygon points="223.5,777.2 229.65,787.85 217.35,787.85" fill="#636363"/>
<text x="236.8" y="789" font-family="'Liberation Sans', sans-serif" font-size="13" fill="#000">LW (Recall &amp; IADL)<tspan font-size="9" dy="-6.6" dx="0.6">P</tspan></text>
<line x1="218.85" y1="809" x2="228.15" y2="809" stroke="#8f8f8f" stroke-width="1.7"/>
<polygon points="223.5,816.1 229.65,805.45 217.35,805.45" fill="none" stroke="#8f8f8f" stroke-width="0.75" stroke-linejoin="miter"/>
<text x="236.8" y="813.7" font-family="'Liberation Sans', sans-serif" font-size="13" fill="#000">LW (Recall)</text>
<line x1="364.65" y1="784.3" x2="373.95" y2="784.3" stroke="#c4c4c4" stroke-width="1.7"/>
<polygon points="369.3,777.2 375.45,787.85 363.15,787.85" fill="none" stroke="#c4c4c4" stroke-width="0.75" stroke-linejoin="miter"/>
<text x="382.6" y="789" font-family="'Liberation Sans', sans-serif" font-size="13" fill="#000">LW (Recall &amp; IADL)</text>
<line x1="364.65" y1="809" x2="373.95" y2="809" stroke="#575757" stroke-width="1.7"/>
<polygon points="369.3,803.4 375,809 369.3,814.6 363.6,809" fill="#575757"/>
<text x="382.6" y="813.7" font-family="'Liberation Sans', sans-serif" font-size="13" fill="#000">GLM (weighted)</text>
<line x1="504.35" y1="784.3" x2="513.65" y2="784.3" stroke="#3b3b3b" stroke-width="1.7"/>
<rect x="504.8" y="780.1" width="8.4" height="8.4" fill="#3b3b3b"/>
<text x="522.3" y="789" font-family="'Liberation Sans', sans-serif" font-size="13" fill="#000">RF SMOTE</text>
<line x1="504.35" y1="809" x2="513.65" y2="809" stroke="#7f7f7f" stroke-width="1.7"/>
<circle cx="509" cy="809" r="4.75" fill="#7f7f7f"/>
<text x="522.3" y="813.7" font-family="'Liberation Sans', sans-serif" font-size="13" fill="#000">XGB SMOTE</text>
</svg>
</body></html>
